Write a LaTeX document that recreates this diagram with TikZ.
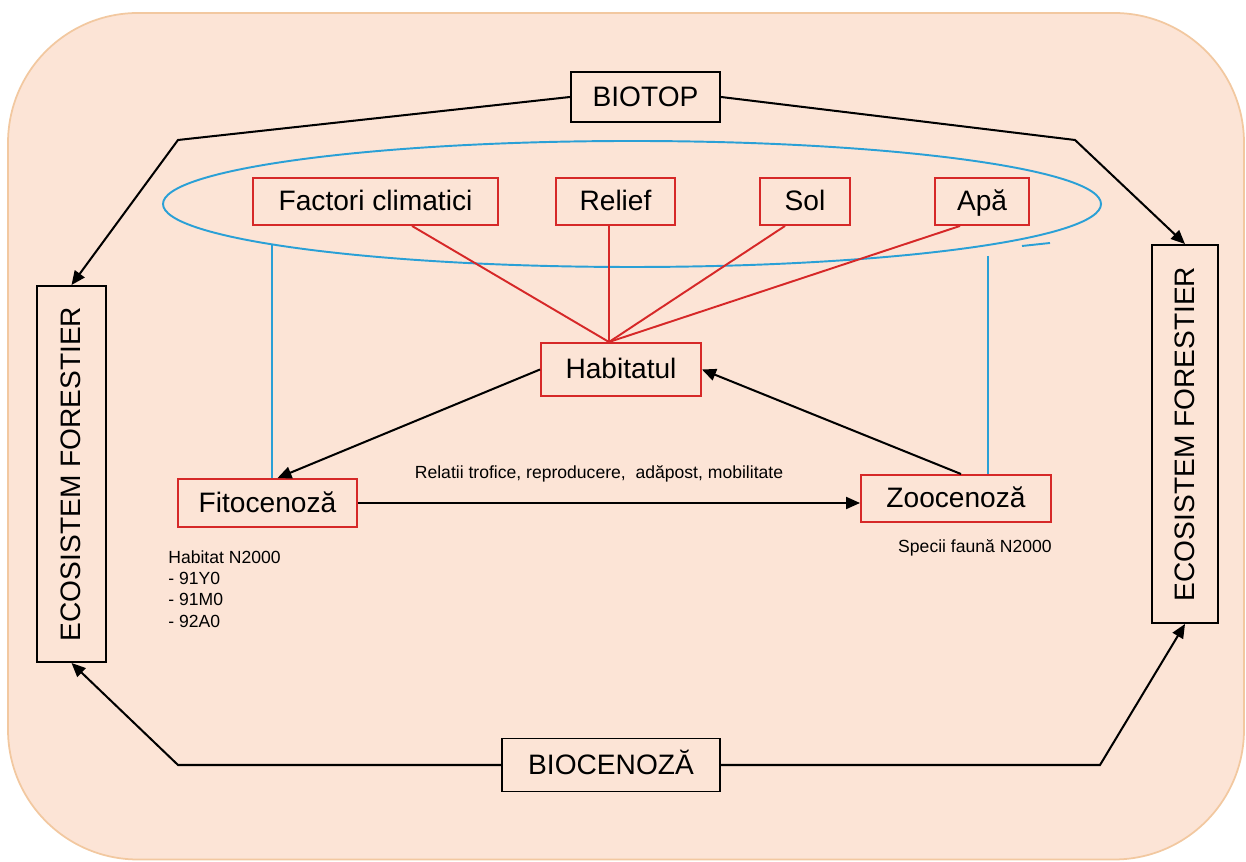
\documentclass[tikz,border=0pt]{standalone}
\usepackage{fontspec}
\setmainfont{Liberation Sans}
\usetikzlibrary{arrows.meta,positioning}
\definecolor{peach}{RGB}{252,228,214}
\definecolor{peachedge}{RGB}{242,200,160}
\definecolor{boxred}{RGB}{214,40,40}
\definecolor{ovalblue}{RGB}{42,160,214}

\begin{document}
\begin{tikzpicture}[
  blackbox/.style={draw=black, line width=1.1pt, inner sep=0pt, text height=11.6pt, text depth=1pt, font=\fontsize{16}{19}\selectfont},
  redbox/.style={draw=boxred, line width=1.1pt, inner sep=0pt, minimum height=0.94cm, text height=11.6pt, text depth=1pt, font=\fontsize{16}{19}\selectfont},
  redline/.style={draw=boxred, line width=1.1pt},
  blueline/.style={draw=ovalblue, line width=1.1pt},
  arr/.style={-{Triangle[length=2.8mm,width=2.4mm]}, line width=1.15pt},
  smalltxt/.style={inner sep=0pt, align=left, font=\fontsize{10}{12.2}\selectfont}
]
\useasboundingbox (0,0) rectangle (24.92,17.24);
% background
\draw[fill=peach, draw=peachedge, line width=1pt, rounded corners=2.6cm] (0.16,0.05) rectangle (24.88,16.98);

% oval round the biotope factors
\draw[blueline] (12.64,13.16) ellipse (9.38cm and 1.26cm);
\draw[blueline] (20.44,12.32) -- (21.0,12.38);

% outer boxes
\node[blackbox, minimum width=2.98cm, minimum height=1cm] (biotop) at (12.91,15.3) {BIOTOP};
\node[blackbox, minimum width=4.36cm, minimum height=1.06cm] (biocen) at (12.22,1.94) {BIOCENOZĂ};
\node[blackbox, rotate=90, minimum width=7.52cm, minimum height=1.38cm] (ecoL) at (1.43,7.76) {ECOSISTEM FORESTIER};
\node[blackbox, rotate=90, minimum width=7.56cm, minimum height=1.32cm] (ecoR) at (23.7,8.56) {ECOSISTEM FORESTIER};

% factors
\node[redbox, minimum width=4.9cm] (clima) at (7.51,13.21) {Factori climatici};
\node[redbox, minimum width=2.38cm] (relief) at (12.31,13.21) {Relief};
\node[redbox, minimum width=1.8cm] (sol) at (16.1,13.21) {Sol};
\node[redbox, minimum width=1.88cm] (apa) at (19.64,13.21) {Apă};

\node[redbox, minimum width=3.2cm, minimum height=1.06cm] (hab) at (12.42,9.85) {Habitatul};
\node[redbox, minimum width=3.58cm, minimum height=0.96cm] (fito) at (5.35,7.18) {Fitocenoză};
\node[redbox, minimum width=3.8cm] (zoo) at (19.12,7.27) {Zoocenoză};

\coordinate (hub) at ([xshift=-2.4mm]hab.north);
\draw[redline] ([xshift=7.3mm]clima.south) -- (hub);
\draw[redline] (hub |- relief.south) -- (hub);
\draw[redline] ([xshift=-4mm]sol.south) -- (hub);
\draw[redline] ([xshift=-4.4mm]apa.south) -- (hub);

\coordinate (ovalL) at (5.44,12.33);
\coordinate (ovalR) at (19.76,12.12);
\draw[blueline] (ovalL) -- (ovalL |- fito.north);
\draw[blueline] (ovalR) -- (ovalR |- zoo.north);

\draw[arr] (hab.west) -- ([xshift=2mm]fito.north);
\draw[arr] ([xshift=1mm]zoo.north) -- (hab.east);
\draw[arr] (fito.east) -- (fito.east -| zoo.west);
\node[smalltxt] (rel) at (11.98,7.76) {Relatii trofice, reproducere,~ adăpost, mobilitate};

\node[smalltxt, anchor=north west] (n2000) at (3.36,6.24) {Habitat N2000\\- 91Y0\\- 91M0\\- 92A0};
\node[smalltxt, anchor=north east] (fauna) at ([yshift=-3.2mm]zoo.south east) {Specii faună N2000};

% corners of the outer loop
\coordinate (tl) at (3.56,14.44);
\coordinate (tr) at (21.5,14.44);
\coordinate (bl) at (3.56,1.94);
\coordinate (br) at (22,1.94);
\draw[arr] (biotop.west) -- (tl) -- (ecoL.east);
\draw[arr] (biotop.east) -- (tr) -- (ecoR.east);
\draw[arr] (biocen.west) -- (bl) -- (ecoL.west);
\draw[arr] (biocen.east) -- (br) -- (ecoR.west);

\end{tikzpicture}
\end{document}
